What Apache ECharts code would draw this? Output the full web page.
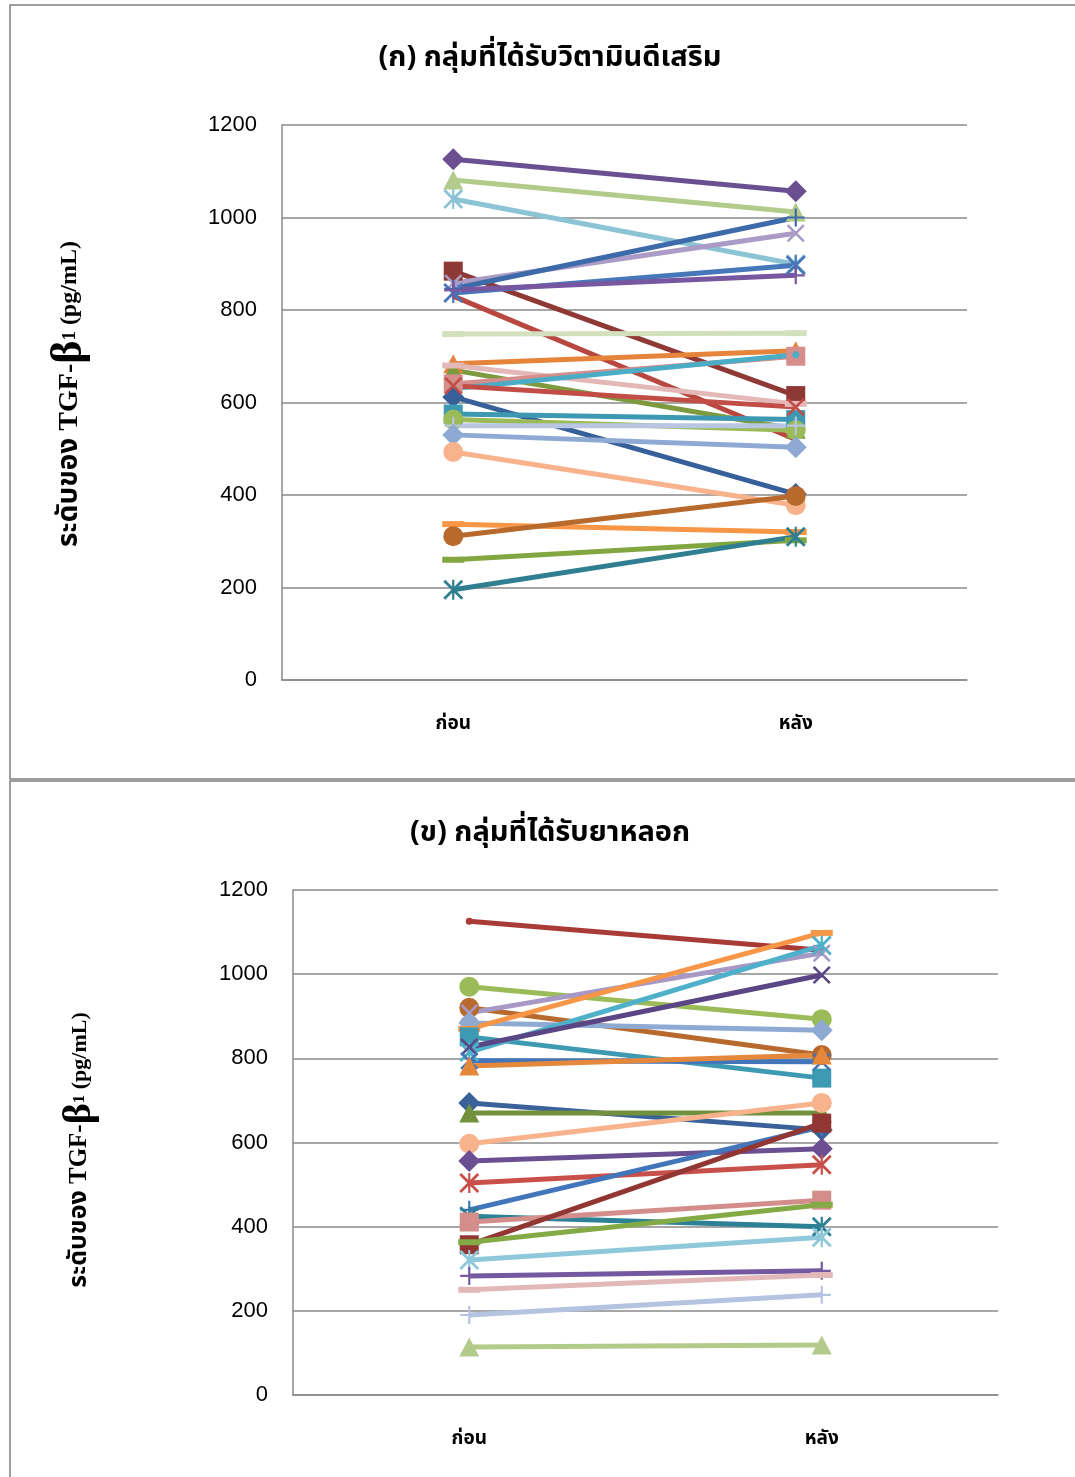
<!DOCTYPE html>
<html>
<head>
<meta charset="utf-8">
<title>TGF-β1</title>
<script src="https://cdn.jsdelivr.net/npm/echarts@6/dist/echarts.min.js"></script>
<style>
  html, body { margin: 0; padding: 0; background: #fff; }
  #chart { width: 1075px; height: 1477px; }
</style>
</head>
<body>
<div id="chart"></div>
<script>
// Time points on the x axis
const categories = ['ก่อน', 'หลัง'];
const yTicks = [0, 200, 400, 600, 800, 1000, 1200];

// (ก) vitamin D supplemented group: TGF-β1 per subject, before / after
const vitaminBefore = [1126, 1081, 1040, 884, 858, 837, 846, 843, 830, 748, 684, 670, 680, 640, 630, 612, 575, 563, 550, 530, 493, 337, 311, 260, 195, 636];
const vitaminAfter  = [1057, 1012,  899, 615, 966, 897, 1000, 875, 520, 750, 712, 542, 597, 700, 703, 402, 563, 540, 550, 503, 378, 320, 398, 302, 310, 590];

// (ข) placebo group: TGF-β1 per subject, before / after
const placeboBefore = [1126, 970, 920, 908, 884, 870, 851, 815, 827, 794, 782, 694, 670, 597, 556, 504, 440, 425, 411, 357, 363, 321, 283, 250, 190, 114];
const placeboAfter  = [1057, 893, 808, 1050, 867, 1098, 753, 1068, 998, 792, 808, 630, 670, 694, 585, 547, 637, 400, 463, 646, 452, 375, 295, 285, 238, 119];

// Series styling (colour, marker)
const vitaminColors = ['#6a4f91', '#b3cb8a', '#8cc4d6', '#8f3936', '#aa9cc6', '#4677b8', '#3d6ba9', '#7757a0', '#b8473f', '#d3e0bd',
  '#e5843a', '#7d9a3f', '#e4b8b6', '#d58e8b', '#4bacc6', '#37609a', '#3d99b1', '#9bbb59', '#b8c6e2', '#8ea9d3',
  '#f8b38c', '#f79646', '#b8692c', '#82a640', '#2f7f91', '#c24d47'];
const vitaminMarkers = ['diamond', 'triangle', 'star', 'square', 'x', 'star', 'plus', 'plus', 'none', 'dash',
  'triangle', 'triangle', 'dash', 'square', 'dot', 'diamond', 'square', 'circle', 'plus', 'diamond',
  'circle', 'dash', 'circle', 'dash', 'star', 'x'];

const placeboColors = ['#a93b37', '#9bbb59', '#b86a2e', '#a898c6', '#8eaad3', '#f79646', '#3d9ab2', '#4fb0ca', '#5a4585', '#4275b9',
  '#e5883c', '#3a6299', '#72913d', '#f8b38c', '#6c4f93', '#c9504a', '#4275b9', '#2d8195', '#d38e8c', '#923634',
  '#84aa45', '#8fc8da', '#7459a0', '#e2b9b8', '#b4c3e0', '#b3cb8a'];
const placeboMarkers = ['dot', 'circle', 'circle', 'x', 'diamond', 'dash', 'square', 'star', 'x', 'x',
  'triangle', 'diamond', 'triangle', 'circle', 'diamond', 'star', 'plus', 'star', 'square', 'square',
  'dash', 'star', 'plus', 'dash', 'plus', 'triangle'];

// Marker shapes
const X_PATH = 'path://M1,0L5,4L9,0L10,1L6,5L10,9L9,10L5,6L1,10L0,9L4,5L0,1Z';
const STAR_PATH = 'path://M1,0L5,4L9,0L10,1L6,5L10,9L9,10L5,6L1,10L0,9L4,5L0,1Z M4.45,0H5.55V10H4.45Z';
const PLUS_PATH = 'path://M4.4,0H5.6V4.4H10V5.6H5.6V10H4.4V5.6H0V4.4H4.4Z';
const MARKERS = {
  diamond: { symbol: 'diamond', size: [22, 22] },
  square: { symbol: 'rect', size: 19 },
  triangle: { symbol: 'triangle', size: [20, 19] },
  circle: { symbol: 'circle', size: 20 },
  x: { symbol: X_PATH, size: 18 },
  star: { symbol: STAR_PATH, size: 20 },
  plus: { symbol: PLUS_PATH, size: 18 },
  dash: { symbol: 'rect', size: [22, 6] },
  dot: { symbol: 'circle', size: 7 },
  none: { symbol: 'none', size: 0 }
};

const GRID_GREY = '#8a8a8a';
const THAI_FONT = '"Noto Sans Thai", "Noto Sans", "DejaVu Sans", sans-serif';
const NUM_FONT = '"Liberation Sans", Arial, sans-serif';

function buildSeries(before, after, colors, markers, axisIndex) {
  return before.map((b, i) => {
    const m = MARKERS[markers[i]];
    return {
      type: 'line',
      xAxisIndex: axisIndex,
      yAxisIndex: axisIndex,
      data: [b, after[i]],
      symbol: m.symbol,
      symbolSize: m.size,
      showSymbol: m.symbol !== 'none',
      lineStyle: { color: colors[i], width: 5 },
      itemStyle: { color: colors[i] },
      emphasis: { disabled: true },
      animation: false
    };
  });
}

function xAxisFor(gridIndex) {
  return {
    type: 'category',
    gridIndex,
    data: categories,
    boundaryGap: true,
    axisTick: { show: false },
    axisLine: { lineStyle: { color: GRID_GREY, width: 1.5 } },
    axisLabel: { color: '#000', fontSize: 19, fontWeight: 'bold', fontFamily: THAI_FONT, margin: 36 }
  };
}

function yAxisFor(gridIndex) {
  return {
    type: 'value',
    gridIndex,
    min: yTicks[0],
    max: yTicks[yTicks.length - 1],
    interval: yTicks[1] - yTicks[0],
    axisTick: { show: false },
    axisLine: { show: true, lineStyle: { color: GRID_GREY, width: 1.5 } },
    splitLine: { lineStyle: { color: GRID_GREY, width: 1.5 } },
    axisLabel: { color: '#000', fontSize: 22, fontFamily: NUM_FONT, margin: 25, formatter: v => String(v) }
  };
}

// Rotated y-axis title with the large beta and small subscript
function yTitle(x, y, scale) {
  const serif = '"Liberation Serif", "Noto Sans Thai", serif';
  return {
    type: 'text',
    x, y,
    rotation: Math.PI / 2,
    style: {
      text: '{a|ระดับของ TGF-}{b|β}{c|1}{d| (pg/mL)}',
      align: 'center',
      verticalAlign: 'middle',
      rich: {
        a: { fontSize: Math.round(25 * scale), fontWeight: 'bold', fontFamily: serif, fill: '#000' },
        b: { fontSize: Math.round(40 * scale), fontWeight: 'bold', fontFamily: serif, fill: '#000' },
        c: { fontSize: Math.round(17 * scale), fontWeight: 'bold', fontFamily: serif, fill: '#000' },
        d: { fontSize: Math.round(22 * scale), fontWeight: 'bold', fontFamily: serif, fill: '#000' }
      }
    }
  };
}

const chart = echarts.init(document.getElementById('chart'), null, { renderer: 'canvas' });
chart.setOption({
  backgroundColor: '#fff',
  animation: false,
  title: [
    { text: '(ก) กลุ่มที่ได้รับวิตามินดีเสริม', left: 545, top: 41, textAlign: 'center',
      textStyle: { fontSize: 29, fontWeight: 'bold', fontFamily: THAI_FONT, color: '#000' } },
    { text: '(ข) กลุ่มที่ได้รับยาหลอก', left: 545, top: 816, textAlign: 'center',
      textStyle: { fontSize: 29, fontWeight: 'bold', fontFamily: THAI_FONT, color: '#000' } }
  ],
  grid: [
    { left: 282, top: 125, width: 685, height: 555, containLabel: false },
    { left: 293, top: 890, width: 705, height: 505, containLabel: false }
  ],
  xAxis: [xAxisFor(0), xAxisFor(1)],
  yAxis: [yAxisFor(0), yAxisFor(1)],
  graphic: [
    { type: 'rect', shape: { x: 10, y: 5, width: 1080, height: 774 }, style: { fill: 'none', stroke: '#7f7f7f', lineWidth: 1.5 }, silent: true },
    { type: 'rect', shape: { x: 10, y: 781, width: 1080, height: 710 }, style: { fill: 'none', stroke: '#7f7f7f', lineWidth: 1.5 }, silent: true },
    yTitle(70, 394, 1.1),
    yTitle(80, 1150, 1.0)
  ],
  series: [
    ...buildSeries(vitaminBefore, vitaminAfter, vitaminColors, vitaminMarkers, 0),
    ...buildSeries(placeboBefore, placeboAfter, placeboColors, placeboMarkers, 1)
  ]
});
</script>
</body>
</html>
